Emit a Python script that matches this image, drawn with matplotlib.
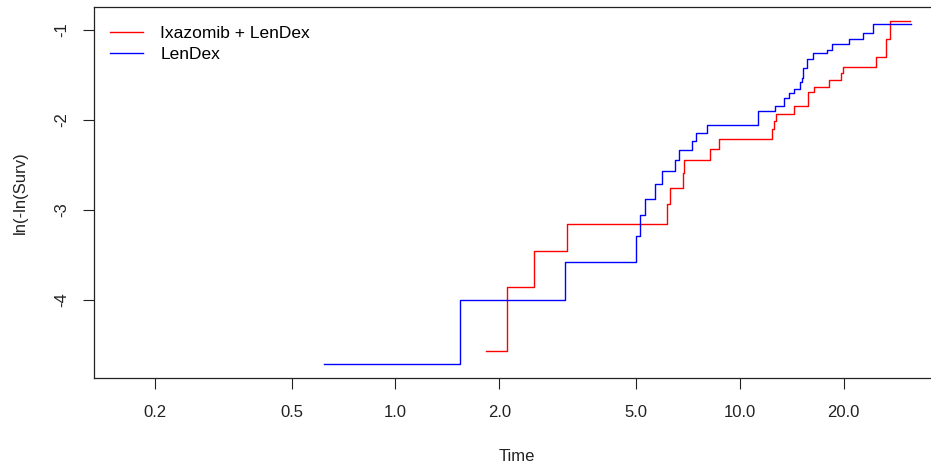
import matplotlib
matplotlib.use('Agg')
import matplotlib.pyplot as plt
from matplotlib.ticker import NullLocator

# step curves (time, ln(-ln(S)))
red_t = [1.83, 2.10, 2.52, 3.14, 6.14, 6.26, 6.82, 6.87, 8.17, 8.7, 12.4,
         12.55, 12.7, 14.3, 15.8, 16.4, 18.1, 19.6, 19.9, 24.9, 26.6, 27.3,
         31.2]
red_v = [-4.57, -3.86, -3.46, -3.16, -2.93, -2.75, -2.59, -2.44, -2.32,
         -2.21, -2.10, -2.01, -1.93, -1.84, -1.69, -1.63, -1.55, -1.48,
         -1.41, -1.30, -1.10, -0.90, -0.90]

blue_t = [0.621, 1.54, 3.10, 4.99, 5.14, 5.30, 5.67, 5.95, 6.47, 6.64, 7.25,
          7.44, 8.0, 11.26, 12.6, 13.4, 13.9, 14.3, 14.9, 15.1, 15.2, 15.7,
          16.3, 17.9, 18.5, 20.7, 22.7, 24.4, 31.3]
blue_v = [-4.71, -4.00, -3.58, -3.29, -3.05, -2.88, -2.71, -2.57, -2.44,
          -2.33, -2.23, -2.14, -2.05, -1.90, -1.84, -1.76, -1.70, -1.65,
          -1.58, -1.53, -1.42, -1.32, -1.26, -1.22, -1.16, -1.10, -1.03,
          -0.93, -0.93]

labels = ['Ixazomib + LenDex', 'LenDex']
xticks = [0.2, 0.5, 1.0, 2.0, 5.0, 10.0, 20.0]
yticks = [-4, -3, -2, -1]

plt.rcParams['font.family'] = ['Liberation Sans', 'DejaVu Sans']

W, H = 931, 468
fig = plt.figure(figsize=(W / 100, H / 100), dpi=100)
left, right, top, bottom = 94, 939, 7.3, 377.5
ax = fig.add_axes([left / W, 1 - bottom / H, (right - left) / W,
                   (bottom - top) / H])

ax.plot(red_t, red_v, drawstyle='steps-post', color='#ff0000', lw=1.0,
        label=labels[0])
ax.plot(blue_t, blue_v, drawstyle='steps-post', color='#0000ff', lw=1.0,
        label=labels[1])

ax.set_xscale('log')
ax.set_xlim(10 ** ((left - 395.5) / 344.5), 10 ** ((right - 395.5) / 344.5))
ax.set_ylim(-1 - (bottom - 30) / 90, -1 + (30 - top) / 90)

ax.set_xticks(xticks)
ax.set_xticklabels(['%.1f' % x for x in xticks])
ax.xaxis.set_minor_locator(NullLocator())
ax.set_yticks(yticks)
ax.set_yticklabels([str(y) for y in yticks], rotation=90, va='center')

for s in ax.spines.values():
    s.set_linewidth(0.9)
    s.set_color('#222222')
ax.tick_params(axis='both', length=7.8, width=0.8, color='#222222',
               labelsize=12, labelcolor='#222222')
ax.tick_params(axis='x', pad=12)
ax.tick_params(axis='y', pad=10)

ax.set_xlabel('Time', fontsize=12, color='#222222', labelpad=21)
ax.set_ylabel('ln(-ln(Surv)', fontsize=12, color='#222222', labelpad=19)

ax.legend(loc='upper left', frameon=False, fontsize=12.5, handlelength=1.9,
          handletextpad=1.0, labelspacing=0.32, borderaxespad=0.0,
          bbox_to_anchor=((103 - left) / (right - left),
                          1 - (19 - top) / (bottom - top)))

fig.savefig('out.png', dpi=100)
